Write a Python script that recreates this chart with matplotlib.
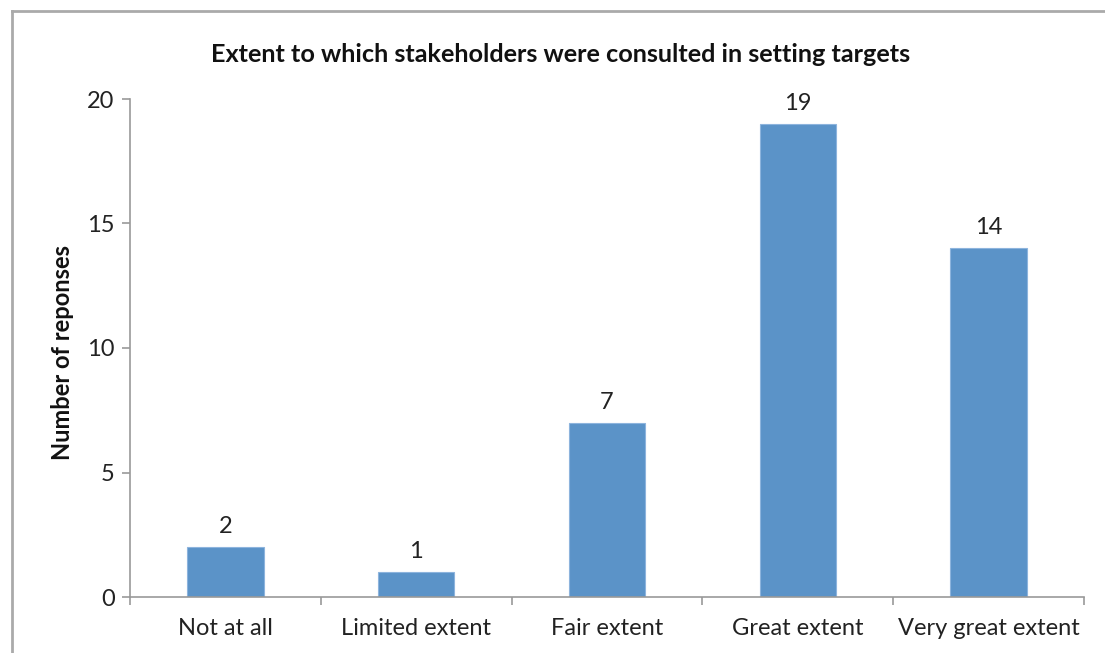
import matplotlib
matplotlib.use("Agg")
import matplotlib.pyplot as plt
from matplotlib.lines import Line2D

categories = ["Not at all", "Limited extent", "Fair extent", "Great extent", "Very great extent"]
values = [2, 1, 7, 19, 14]
yticks = [0, 5, 10, 15, 20]

plt.rcParams['font.family'] = ['Lato', 'DejaVu Sans']

fig = plt.figure(figsize=(11.05, 6.53), dpi=100)
ax = fig.add_axes([130/1105, 1-597/653, (1084-130)/1105, (597-99)/653])

x = list(range(len(categories)))
bars = ax.bar(x, values, width=0.4, color="#5B93C8", edgecolor="#8DB4DD", linewidth=0.8, zorder=2)
for xi, v in zip(x, values):
    ax.text(xi, v + 0.4, str(v), ha="center", va="bottom", fontsize=17, color="#222222")

ax.set_xlim(-0.5, len(categories) - 0.5)
ax.set_ylim(0, 20)
ax.set_yticks(yticks)
ax.set_yticklabels([str(t) for t in yticks], fontsize=17, color="#222222")
ax.set_xticks(x)
ax.set_xticklabels(categories, fontsize=17, color="#222222")
ax.tick_params(axis="x", length=0, pad=15)
ax.tick_params(axis="y", length=6, width=1.2, color="#999999", pad=5)
# category boundary ticks on x axis
ax.set_xticks([i - 0.5 for i in range(len(categories) + 1)], minor=True)
ax.tick_params(axis="x", which="minor", length=6, width=1.2, color="#999999")

for s in ["top", "right"]:
    ax.spines[s].set_visible(False)
for s in ["left", "bottom"]:
    ax.spines[s].set_color("#999999")
    ax.spines[s].set_linewidth(1.2)

ax.set_ylabel("Number of reponses", fontsize=17, fontweight="bold", color="#111111")
ax.yaxis.set_label_coords((74 - 130) / 954, 0.49)
fig.text(561/1105, 1-54/653, "Extent to which stakeholders were consulted in setting targets",
         ha="center", va="center", fontsize=18.2, fontweight="bold", color="#111111")

# outer frame (top and left edges visible)
fig.add_artist(Line2D([12/1105, 12/1105], [0, 1-11/653], transform=fig.transFigure, color="#AAAAAA", lw=2))
fig.add_artist(Line2D([12/1105, 1], [1-11/653, 1-11/653], transform=fig.transFigure, color="#AAAAAA", lw=2))

fig.savefig("out.png", dpi=100)
